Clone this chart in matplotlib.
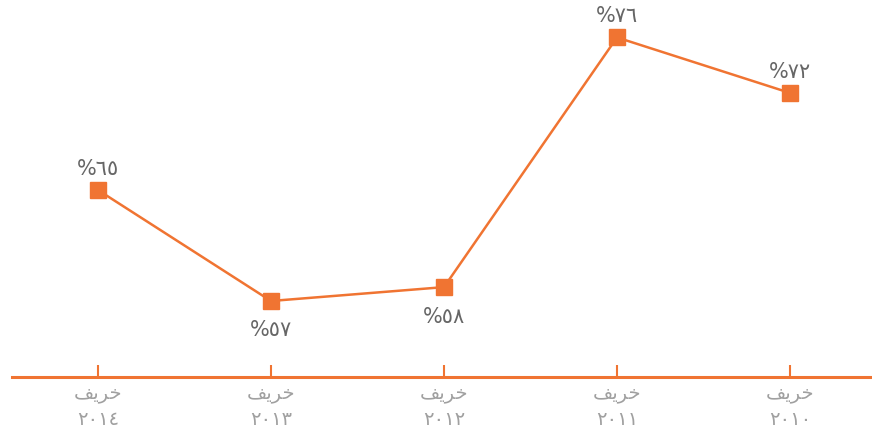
import matplotlib
matplotlib.use("Agg")
import matplotlib.pyplot as plt

# ترتيب العرض من اليسار لليمين
seasons = ["خريف", "خريف", "خريف", "خريف", "خريف"]
years = ["٢٠١٤", "٢٠١٣", "٢٠١٢", "٢٠١١", "٢٠١٠"]
values = [65, 57, 58, 76, 72]
value_labels = ["٦٥", "٥٧", "٥٨", "٧٦", "٧٢"]
label_above = [True, False, False, True, True]

ORANGE = "#F07432"

# matplotlib doesn't shape arabic: use presentation forms, reversed for LTR drawing
shaped = {"خريف": "\uFED2\uFEF3\uFEAE\uFEA7"}

plt.rcParams["font.family"] = ["DejaVu Sans"]

fig = plt.figure(figsize=(8.72, 4.38), dpi=100)
ax = fig.add_axes([12 / 872, 61 / 438, 860 / 872, 377 / 438])

x = list(range(len(values)))
ax.plot(x, values, color=ORANGE, lw=1.8, marker="s", ms=11, zorder=3)

for xi, v, lab, up in zip(x, values, value_labels, label_above):
    if up:
        ax.annotate("%" + lab, (xi, v), xytext=(0, 8), textcoords="offset points",
                    ha="center", va="bottom", fontsize=15, color="#666666")
    else:
        ax.annotate("%" + lab, (xi, v), xytext=(0, -14), textcoords="offset points",
                    ha="center", va="top", fontsize=15, color="#666666")

ax.set_xlim(-0.497, 4.474)
ax.set_ylim(51.52, 78.7)
ax.set_xticks(x)
ax.set_xticklabels([shaped[s] + "\n" + y for s, y in zip(seasons, years)],
                   fontsize=14, color="#A0A0A0", linespacing=1.45)
ax.tick_params(axis="x", direction="in", length=9, width=1.5, color=ORANGE, pad=5)
ax.set_yticks([])
for side in ["top", "right", "left"]:
    ax.spines[side].set_visible(False)
ax.spines["bottom"].set_color(ORANGE)
ax.spines["bottom"].set_linewidth(2.2)
ax.patch.set_alpha(0)

fig.savefig("out.png", dpi=100)
